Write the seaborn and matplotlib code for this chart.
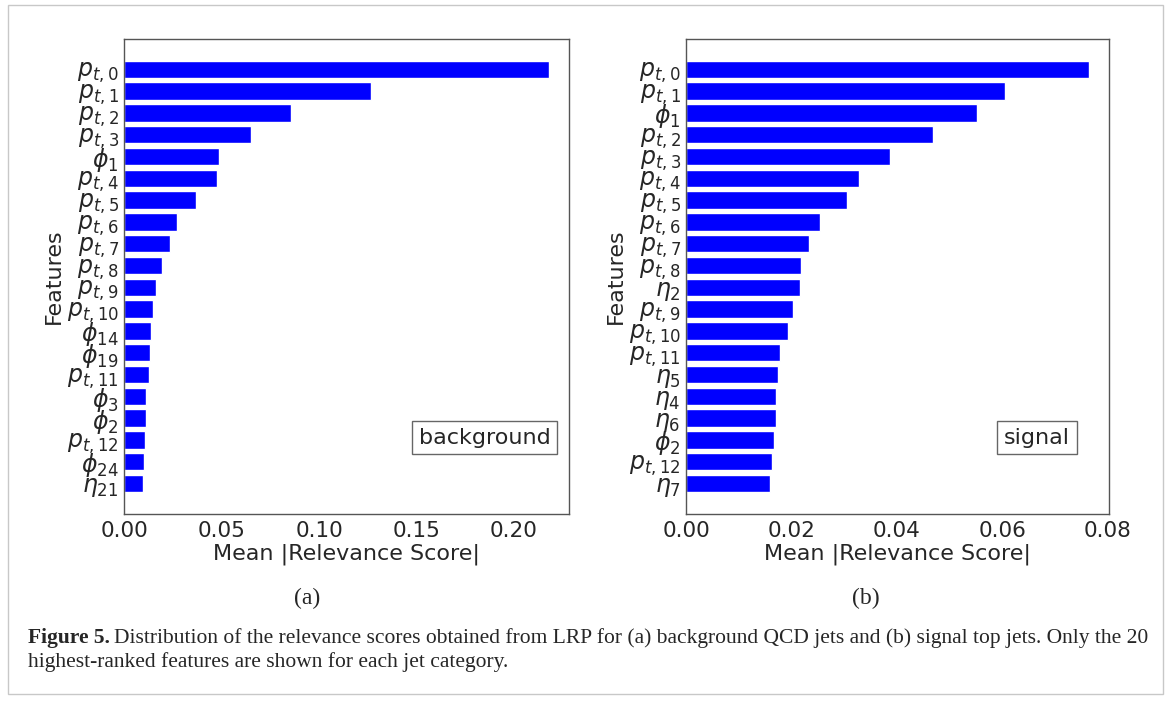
import matplotlib
matplotlib.use("Agg")
import matplotlib.pyplot as plt
import pandas as pd
import seaborn as sns
from matplotlib.patches import Rectangle

# top-20 features per jet category
bkg_features = [r"$p_{t,0}$", r"$p_{t,1}$", r"$p_{t,2}$", r"$p_{t,3}$", r"$\phi_1$",
                r"$p_{t,4}$", r"$p_{t,5}$", r"$p_{t,6}$", r"$p_{t,7}$", r"$p_{t,8}$",
                r"$p_{t,9}$", r"$p_{t,10}$", r"$\phi_{14}$", r"$\phi_{19}$", r"$p_{t,11}$",
                r"$\phi_3$", r"$\phi_2$", r"$p_{t,12}$", r"$\phi_{24}$", r"$\eta_{21}$"]
bkg_scores = [0.2180, 0.1268, 0.0855, 0.0651, 0.0488,
              0.0477, 0.0369, 0.0273, 0.0236, 0.0191,
              0.0165, 0.0149, 0.0137, 0.0131, 0.0128,
              0.0113, 0.0112, 0.0106, 0.0099, 0.0098]

sig_features = [r"$p_{t,0}$", r"$p_{t,1}$", r"$\phi_1$", r"$p_{t,2}$", r"$p_{t,3}$",
                r"$p_{t,4}$", r"$p_{t,5}$", r"$p_{t,6}$", r"$p_{t,7}$", r"$p_{t,8}$",
                r"$\eta_2$", r"$p_{t,9}$", r"$p_{t,10}$", r"$p_{t,11}$", r"$\eta_5$",
                r"$\eta_4$", r"$\eta_6$", r"$\phi_2$", r"$p_{t,12}$", r"$\eta_7$"]
sig_scores = [0.0765, 0.0605, 0.0551, 0.0468, 0.0387,
              0.0328, 0.0306, 0.0254, 0.0233, 0.0218,
              0.0215, 0.0203, 0.0194, 0.0178, 0.0174,
              0.0171, 0.0170, 0.0166, 0.0162, 0.0158]

sns.set_style("white")
plt.rcParams['font.family'] = ['DejaVu Sans']
plt.rcParams['mathtext.fontset'] = 'dejavusans'

W, H = 1171, 704
fig = plt.figure(figsize=(W / 100, H / 100), dpi=100)


def px_axes(x0, y0, x1, y1):
    return fig.add_axes([x0 / W, 1 - y1 / H, (x1 - x0) / W, (y1 - y0) / H])


def draw_panel(ax, features, scores, xmax, ticks, tag, tag_x):
    df = pd.DataFrame({"feature": features, "score": scores})
    sns.barplot(data=df, x="score", y="feature", orient="h", color="blue",
                saturation=1, errorbar=None, width=0.8, ax=ax)
    n = len(features)
    ax.set_ylim(n - 1 + 0.4 + 0.99, -0.4 - 0.99)
    ax.set_xlim(0, xmax)
    ax.set_xticks(ticks)
    ax.set_xticklabels([f"{t:.2f}" for t in ticks])
    ax.tick_params(axis="x", labelsize=15.5, length=3, color="#555555", pad=2)
    ax.tick_params(axis="y", labelsize=17, length=3, color="#555555", pad=1)
    ax.set_xlabel("Mean |Relevance Score|", fontsize=16, labelpad=2)
    ax.set_ylabel("Features", fontsize=16, labelpad=2)
    for s in ax.spines.values():
        s.set_color("#555555")
        s.set_linewidth(1)
    ax.text(tag_x, 0.16, tag, transform=ax.transAxes, ha="right", va="center",
            fontsize=16,
            bbox=dict(boxstyle="square,pad=0.3", fc="white", ec="#666666", lw=1))


ax1 = px_axes(124.3, 39, 569.3, 513.7)
draw_panel(ax1, bkg_features, bkg_scores, 0.2284, [0, 0.05, 0.10, 0.15, 0.20],
           "background", 0.958)

ax2 = px_axes(686.3, 39, 1108.7, 513.7)
draw_panel(ax2, sig_features, sig_scores, 0.0802, [0, 0.02, 0.04, 0.06, 0.08],
           "signal", 0.908)

# page-style frame and caption
fig.patches.append(Rectangle((8 / W, 1 - 694 / H), 1155 / W, 689 / H,
                             transform=fig.transFigure, fill=False,
                             ec="#c8c8c8", lw=1))

serif = ['Liberation Serif', 'DejaVu Serif']
fig.text(307 / W, 1 - 598 / H, "(a)", ha="center", va="center", fontsize=17, family=serif)
fig.text(866 / W, 1 - 598 / H, "(b)", ha="center", va="center", fontsize=17, family=serif)

cap_x = 28 / W
cap_size = 15.5
bold = fig.text(cap_x, 1 - 638 / H, "Figure 5.", ha="left", va="center",
                fontsize=cap_size, fontweight="bold", family=serif)
fig.canvas.draw()
bb = bold.get_window_extent()
fig.text(bb.x1 / W + 4 / W, 1 - 638 / H,
         "Distribution of the relevance scores obtained from LRP for (a) background QCD jets "
         "and (b) signal top jets. Only the 20",
         ha="left", va="center", fontsize=cap_size, family=serif)
fig.text(cap_x, 1 - 662 / H, "highest-ranked features are shown for each jet category.",
         ha="left", va="center", fontsize=cap_size, family=serif)

fig.savefig("out.png", dpi=100)
